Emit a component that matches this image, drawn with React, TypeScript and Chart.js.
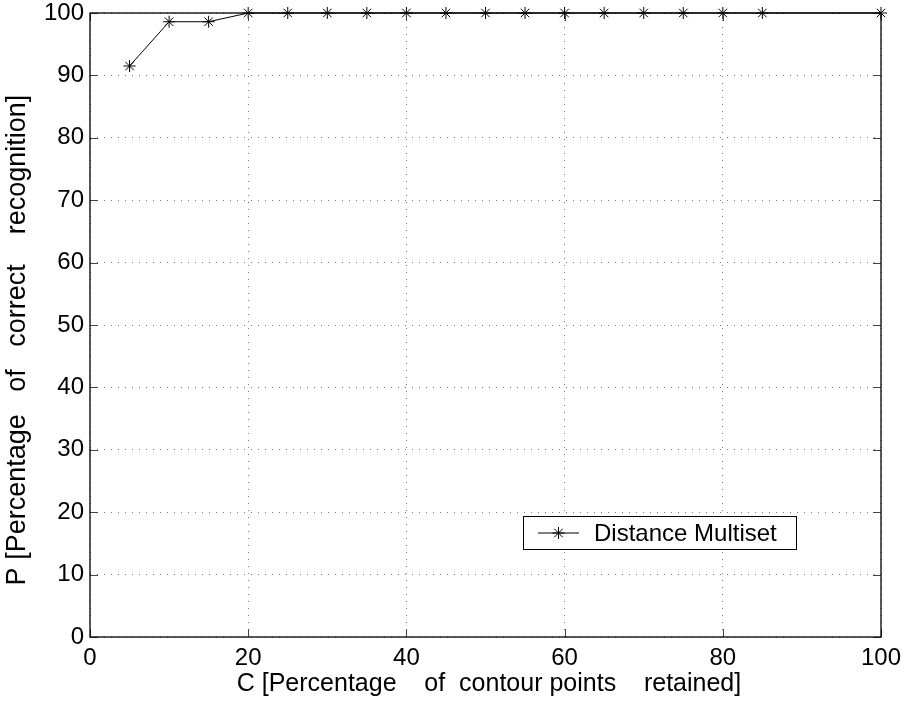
import React, { useEffect, useRef } from "react";
import { Chart, registerables } from "chart.js";

Chart.register(...registerables);

// Data
const xValues: number[] = [5, 10, 15, 20, 25, 30, 35, 40, 45, 50, 55, 60, 65, 70, 75, 80, 85, 100];
const yValues: number[] = [91.5, 98.6, 98.6, 100, 100, 100, 100, 100, 100, 100, 100, 100, 100, 100, 100, 100, 100, 100];
const seriesLabel = "Distance Multiset";
const xTitle = "\u00A0C [Percentage\u00A0\u00A0\u00A0\u00A0of\u00A0\u00A0contour points\u00A0\u00A0\u00A0\u00A0retained]";
const yTitle = "P [Percentage\u00A0\u00A0\u00A0of\u00A0\u00A0\u00A0correct\u00A0\u00A0\u00A0\u00A0recognition]\u00A0\u00A0\u00A0\u00A0";
const xTicks: number[] = [0, 20, 40, 60, 80, 100];
const yTicks: number[] = [0, 10, 20, 30, 40, 50, 60, 70, 80, 90, 100];

const FONT = "'Liberation Sans', Arial, Helvetica, sans-serif";

const framePlugin = {
  id: "frame",
  afterDraw(chart: any) {
    const ctx = chart.ctx;
    const a = chart.chartArea;
    const xs = chart.scales.x;
    const ys = chart.scales.y;
    ctx.save();
    // inward ticks
    ctx.strokeStyle = "#444";
    ctx.lineWidth = 1;
    const tl = 8;
    ctx.beginPath();
    xTicks.forEach((v) => {
      const px = Math.round(xs.getPixelForValue(v)) + 0.5;
      ctx.moveTo(px, a.bottom);
      ctx.lineTo(px, a.bottom - tl);
      ctx.moveTo(px, a.top);
      ctx.lineTo(px, a.top + tl);
    });
    yTicks.forEach((v) => {
      const py = Math.round(ys.getPixelForValue(v)) + 0.5;
      ctx.moveTo(a.left, py);
      ctx.lineTo(a.left + tl, py);
      ctx.moveTo(a.right, py);
      ctx.lineTo(a.right - tl, py);
    });
    ctx.stroke();
    // box
    ctx.strokeStyle = "#000";
    ctx.lineWidth = 1.3;
    ctx.strokeRect(a.left, a.top, a.right - a.left, a.bottom - a.top);

    // legend
    const bx = 523.5, by = 516.5, bw = 273, bh = 33;
    ctx.fillStyle = "#fff";
    ctx.fillRect(bx, by, bw, bh);
    ctx.strokeStyle = "#000";
    ctx.lineWidth = 1;
    ctx.strokeRect(bx, by, bw, bh);
    const cy = by + bh / 2;
    ctx.beginPath();
    ctx.moveTo(538, cy);
    ctx.lineTo(579, cy);
    ctx.stroke();
    const r = 6;
    const sx = 558.5;
    ctx.beginPath();
    ctx.moveTo(sx - r, cy); ctx.lineTo(sx + r, cy);
    ctx.moveTo(sx, cy - r); ctx.lineTo(sx, cy + r);
    const d = r * 0.7071;
    ctx.moveTo(sx - d, cy - d); ctx.lineTo(sx + d, cy + d);
    ctx.moveTo(sx - d, cy + d); ctx.lineTo(sx + d, cy - d);
    ctx.stroke();
    ctx.fillStyle = "#000";
    ctx.font = `24px ${FONT}`;
    ctx.textBaseline = "middle";
    ctx.textAlign = "left";
    ctx.fillText(seriesLabel, 594, cy + 1);
    ctx.restore();
  },
};

export default function App() {
  const ref = useRef<HTMLCanvasElement | null>(null);
  useEffect(() => {
    if (!ref.current) return;
    const chart = new Chart(ref.current, {
      type: "line",
      data: {
        datasets: [
          {
            label: seriesLabel,
            data: xValues.map((x, i) => ({ x, y: yValues[i] })),
            borderColor: "#000",
            borderWidth: 1,
            pointStyle: "star",
            pointRadius: 6,
            pointBorderColor: "#000",
            pointBorderWidth: 1,
            pointBackgroundColor: "#000",
            fill: false,
            tension: 0,
            clip: false,
          } as any,
        ],
      },
      options: {
        responsive: false,
        animation: false,
        layout: { padding: { top: 13, right: 24, left: 0, bottom: 0 } },
        plugins: { legend: { display: false }, tooltip: { enabled: false } },
        scales: {
          x: {
            type: "linear",
            min: 0,
            max: 100,
            afterFit: (s: any) => { s.height = 64; s.paddingLeft = 0; s.paddingRight = 0; },
            afterBuildTicks: (s: any) => { s.ticks = xTicks.map((v) => ({ value: v })); },
            ticks: { color: "#000", font: { family: FONT, size: 24 }, padding: 7, maxRotation: 0 },
            grid: { color: "#777", lineWidth: 1, drawTicks: false } as any,
            border: { display: false, dash: [1, 6] } as any,
            title: { display: true, text: xTitle, color: "#000", font: { family: FONT, size: 25 }, padding: { top: 0, bottom: 2 } },
          },
          y: {
            type: "linear",
            min: 0,
            max: 100,
            afterFit: (s: any) => { s.width = 90; s.paddingTop = 0; s.paddingBottom = 0; },
            afterBuildTicks: (s: any) => { s.ticks = yTicks.map((v) => ({ value: v })); },
            ticks: { color: "#000", font: { family: FONT, size: 24 }, padding: 6 },
            grid: { color: "#777", lineWidth: 1, drawTicks: false } as any,
            border: { display: false, dash: [1, 6] } as any,
            title: { display: true, text: yTitle, color: "#000", font: { family: FONT, size: 27 }, padding: { top: 1, bottom: 0 } },
          },
        },
      },
      plugins: [framePlugin],
    });
    return () => chart.destroy();
  }, []);
  return (
    <div style={{ position: "absolute", left: 0, top: 0, width: 905, height: 701, background: "#fff" }}>
      <canvas ref={ref} width={905} height={701} style={{ display: "block" }} />
    </div>
  );
}
